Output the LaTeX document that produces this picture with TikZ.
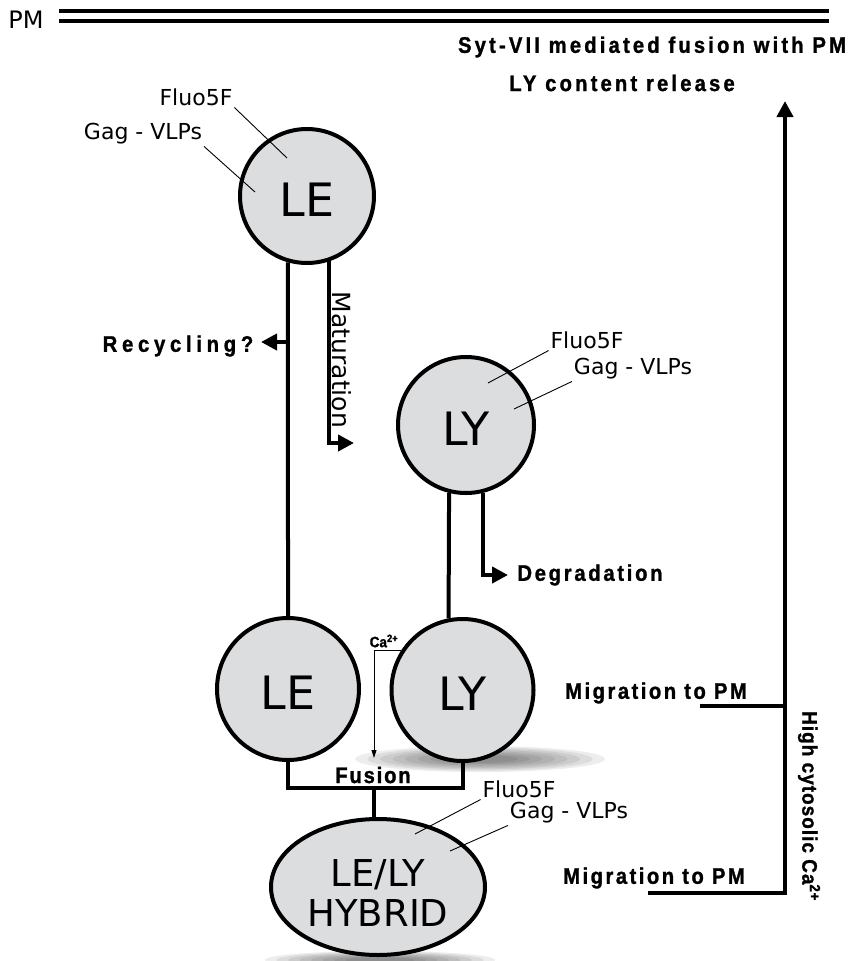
\documentclass[tikz,border=0pt]{standalone}
\usepackage{fontspec}
\setmainfont{DejaVu Sans}
\newfontfamily\boldlbl{Liberation Sans Bold}[FakeStretch=0.9,FakeBold=1.2]
\usetikzlibrary{arrows.meta,shapes.geometric}
\definecolor{vesfill}{RGB}{220,221,223}

\begin{document}
\begin{tikzpicture}[x=1pt,y=-1pt,
    vesicle/.style={circle,draw,line width=4pt,fill=vesfill,inner sep=0pt,
      text height=40pt,text depth=0pt,font=\fontsize{46}{50}\selectfont},
    hybridshape/.style={ellipse,draw,line width=4pt,fill=vesfill,inner sep=0pt},
    link/.style={line width=4pt},
    tip/.style={-{Triangle[length=16pt,width=16pt]}},
    leader/.style={line width=0.9pt},
    thinlbl/.style={inner sep=0pt,outer sep=2pt,font=\fontsize{22}{26}\selectfont},
    boldtxt/.style={inner sep=0pt,font=\boldlbl\fontsize{22.5}{26}\selectfont\addfontfeature{LetterSpace=#1}},
    boldtxt/.default=11]
    \useasboundingbox (0,0) rectangle (864,961);

    % shadows under the lower vesicles
    \foreach \s in {1,0.9,...,0.2}
      \fill[black,opacity=0.07] (480,759) ellipse [x radius=125*\s, y radius=13*\s];
    \foreach \s in {1,0.9,...,0.2}
      \fill[black,opacity=0.07] (380,960) ellipse [x radius=115*\s, y radius=9*\s];

    % plasma membrane
    \node[inner sep=0pt,font=\fontsize{24}{28}\selectfont] (pm) at (26,20) {PM};
    \draw[link] (59,11.3) -- (829,11.3);
    \draw[link] (59,20.5) -- (829,20.5);

    % vesicles
    \node[vesicle,minimum size=134pt] (LEtop) at (307,196) {LE};
    \node[vesicle,minimum size=136pt] (LYtop) at (466,425) {LY};
    \node[vesicle,minimum size=142pt] (LElow) at (288,689) {LE};
    \node[vesicle,minimum size=142pt] (LYlow) at (462.5,690) {LY};
    \node[hybridshape,minimum width=214pt,minimum height=136pt] (hybrid) at (378,887) {};
    \node[inner sep=0pt,align=center,font=\fontsize{37}{40}\selectfont] (hybridtxt) at (378,893) {LE/LY\\HYBRID};

    % free ends of the connectors
    \coordinate (recycfork) at (288,342);
    \coordinate (recyctip) at (261,342);
    \coordinate (maturtip) at (354,443);
    \coordinate (degtip) at (508,575);
    \coordinate (catip) at (374,758);
    \coordinate (fusejoin) at (374,788);
    \coordinate (migA) at (700,706);
    \coordinate (migB) at (648,893);
    \coordinate (bigtip) at (785,101);

    % connectors
    \draw[link] (LEtop.-106.5) -- (LElow.north);
    \draw[link,tip] (recycfork) -- (recyctip);
    \draw[link,tip] (LEtop.-71.7) |- (maturtip);
    \draw[link] (LYtop.-104.5) -- (LYlow.101);
    \draw[link,tip] (LYtop.-76.4) |- (degtip);
    \draw[line width=1pt,-{Triangle[length=8pt,width=5pt]}] (LYlow.147.6) -| (catip);
    \draw[link] (LElow.south) |- (fusejoin) -| (LYlow.south);
    \draw[link] (fusejoin) -- (fusejoin |- hybrid.north);
    \draw[link,tip] (migB) -| (bigtip);
    \draw[link] (migA) -- (migA -| bigtip);

    % Text Node
    \node[boldtxt=14] (sytlbl) at (652,47) {Syt-VII mediated fusion with PM};
    \node[boldtxt=14] (releaselbl) at (622,83) {LY content release};
    \node[boldtxt=21] (recyclbl) at (178,346) {Recycling?};
    \node[boldtxt=12] (deglbl) at (590,575) {Degradation};
    \node[boldtxt=8] (fuselbl) at (373,775) {Fusion};
    \node[boldtxt] (migAlbl) at (656,693) {Migration to PM};
    \node[boldtxt] (migBlbl) at (654,878) {Migration to PM};
    \node[inner sep=0pt,font=\boldlbl\fontsize{21}{24}\selectfont\addfontfeature{LetterSpace=5},rotate=-90] (calbl) at (809,806) {High cytosolic Ca\textsuperscript{2+}};
    \node[inner sep=0pt,font=\boldlbl\fontsize{15}{17}\selectfont] (calbl2) at (384,641) {Ca\textsuperscript{2+}};
    \node[inner sep=0pt,rotate=-90,font=\fontsize{25}{30}\selectfont] (maturlbl) at (342,360) {Maturation};

    % cargo labels
    \node[thinlbl] (fluoA) at (196,97) {Fluo5F};
    \node[thinlbl] (gagA) at (143,134) {Gag - VLPs};
    \node[thinlbl] (fluoB) at (587,340) {Fluo5F};
    \node[thinlbl] (gagB) at (633,369) {Gag - VLPs};
    \node[thinlbl] (fluoC) at (519,789) {Fluo5F};
    \node[thinlbl] (gagC) at (569,813) {Gag - VLPs};
    \coordinate (fluoAin) at (287,158);
    \coordinate (gagAin) at (255,192);
    \coordinate (fluoBin) at (488,383);
    \coordinate (gagBin) at (514,409);
    \coordinate (fluoCin) at (415,834);
    \coordinate (gagCin) at (450,851);
    \draw[leader] (fluoA.south east) -- (fluoAin);
    \draw[leader] (gagA.south east) -- (gagAin);
    \draw[leader] (fluoB.south west) -- (fluoBin);
    \draw[leader] (gagB.south west) -- (gagBin);
    \draw[leader] (fluoC.south west) -- (fluoCin);
    \draw[leader] (gagC.south west) -- (gagCin);

\end{tikzpicture}
\end{document}
